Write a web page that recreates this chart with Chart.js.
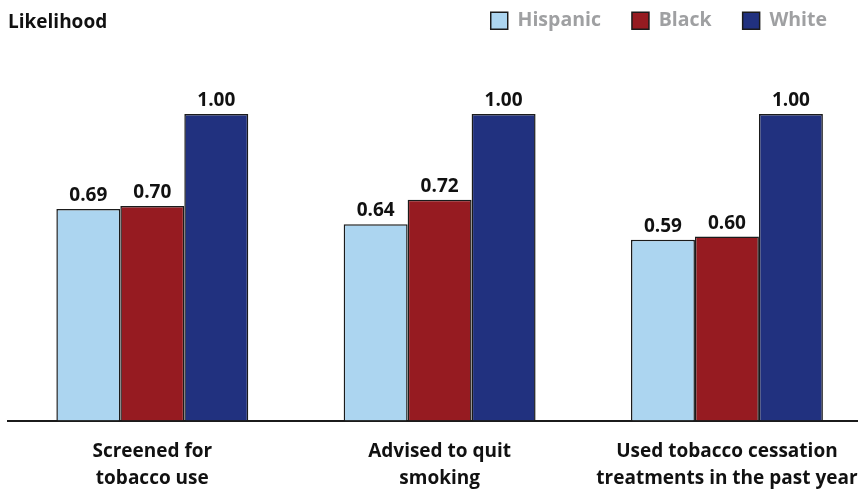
<!DOCTYPE html>
<html>
<head>
<meta charset="utf-8">
<script src="https://cdn.jsdelivr.net/npm/chart.js@4.4.1/dist/chart.umd.min.js"></script>
<style>
  html, body { margin: 0; padding: 0; background: #fff; overflow: hidden; }
  #wrap { position: relative; width: 858px; height: 489px; }
  #title { position: absolute; left: 8px; top: 8px; font: bold 19px "Open Sans", sans-serif; line-height: 26px; color: #111; }
</style>
</head>
<body>
<div id="wrap">
  <canvas id="myChart" width="858" height="489"></canvas>
  <div id="title">Likelihood</div>
</div>
<script>
// Data
const categories = [
    ['Screened for', 'tobacco use'],
    ['Advised to quit', 'smoking'],
    ['Used tobacco cessation', 'treatments in the past year']
];
const hispanic = [0.69, 0.64, 0.59];
const black = [0.70, 0.72, 0.60];
const white = [1.00, 1.00, 1.00];

const FONT = '"Open Sans", sans-serif';

// Bars sit on a linear x axis so the groups can line up with the picture
function points(values) {
    return values.map((v, i) => ({ x: i, y: v }));
}

// Value labels above each bar
const valueLabels = {
    id: 'valueLabels',
    afterDatasetsDraw(chart) {
        const ctx = chart.ctx;
        ctx.save();
        ctx.font = 'bold 19px ' + FONT;
        ctx.fillStyle = '#111';
        ctx.textAlign = 'center';
        ctx.textBaseline = 'alphabetic';
        chart.data.datasets.forEach((ds, i) => {
            chart.getDatasetMeta(i).data.forEach((bar, j) => {
                ctx.fillText(ds.data[j].y.toFixed(2), bar.x, bar.y - 8);
            });
        });
        ctx.restore();
    }
};

var ctx = document.getElementById('myChart').getContext('2d');
var myChart = new Chart(ctx, {
    type: 'bar',
    data: {
        datasets: [{
            label: 'Hispanic',
            data: points(hispanic),
            backgroundColor: '#acd5f0',
            borderColor: '#1b1b1b',
            borderWidth: 1.5
        }, {
            label: 'Black',
            data: points(black),
            backgroundColor: '#961b21',
            borderColor: '#1b1b1b',
            borderWidth: 1.5
        }, {
            label: 'White',
            data: points(white),
            backgroundColor: '#21317f',
            borderColor: '#1b1b1b',
            borderWidth: 1.5
        }]
    },
    options: {
        responsive: false,
        animation: false,
        devicePixelRatio: 1,
        categoryPercentage: 0.668,
        barPercentage: 1.0,
        layout: { padding: { top: -20, left: 8, right: 0, bottom: 0 } },
        plugins: {
            tooltip: { enabled: false },
            legend: {
                position: 'top',
                align: 'end',
                labels: {
                    boxWidth: 17,
                    boxHeight: 17,
                    padding: 31,
                    color: '#9fa0a2',
                    font: { family: FONT, size: 19.5, weight: 'bold' }
                }
            }
        },
        scales: {
            x: {
                type: 'linear',
                bounds: 'data',
                offset: false,
                min: -0.5023,
                max: 2.4562,
                grid: { display: false, drawTicks: false },
                border: { display: true, color: '#1b1b1b', width: 2 },
                ticks: {
                    autoSkip: false,
                    maxRotation: 0,
                    minRotation: 0,
                    padding: 17,
                    color: '#111',
                    font: { family: FONT, size: 19, weight: 'bold', lineHeight: 1.45 },
                    callback: function (value) {
                        return categories[Math.round(value)];
                    }
                },
                // one tick per category, at 0, 1, 2
                afterBuildTicks: function (scale) {
                    scale.ticks = categories.map((c, i) => ({ value: i }));
                },
                afterFit: function (scale) {
                    scale.height = 68.5;
                    scale.paddingLeft = 0;
                    scale.paddingRight = 0;
                }
            },
            y: {
                display: false,
                min: 0,
                max: 1.2398
            }
        }
    },
    plugins: [valueLabels]
});
</script>
</body>
</html>
